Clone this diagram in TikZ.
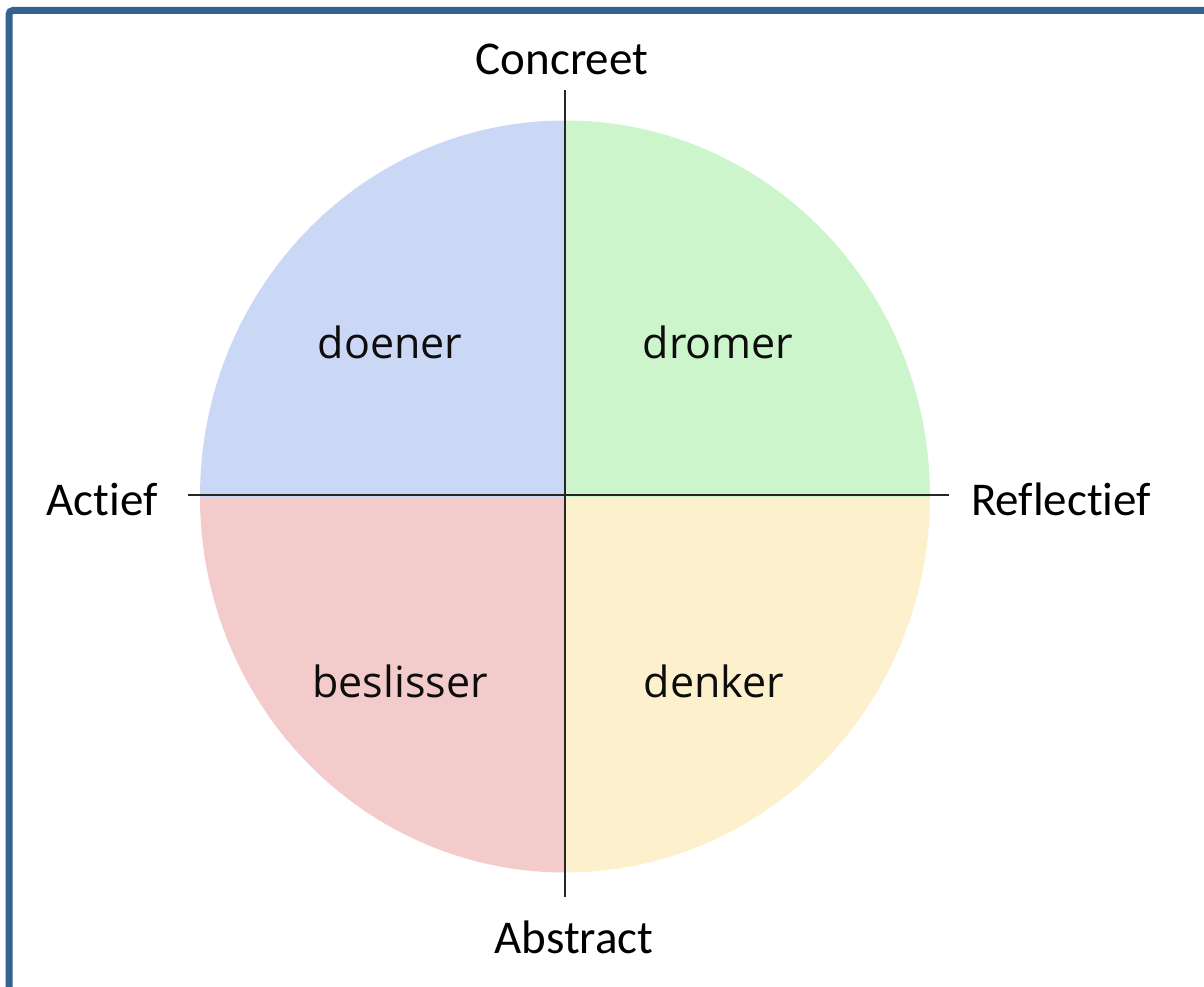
\documentclass[tikz,border=0pt]{standalone}
\usepackage{fontspec}
\setmainfont{Carlito}[Ligatures=NoCommon]
\newfontfamily\quadfont{Open Sans}
\usetikzlibrary{calc}
\definecolor{framecol}{HTML}{35608F}
\definecolor{doenercol}{HTML}{CAD8F5}
\definecolor{dromercol}{HTML}{CCF5CC}
\definecolor{beslissercol}{HTML}{F3CBCB}
\definecolor{denkercol}{HTML}{FCF1CC}

\begin{document}
\begin{tikzpicture}[x=1pt, y=-1pt,
  axislabel/.style={anchor=base, inner sep=0pt, font=\fontsize{47}{50}\selectfont},
  quadlabel/.style={anchor=base, inner sep=0pt, font=\quadfont\fontsize{43}{46}\selectfont, text=black!95}]

  \useasboundingbox (0,0) rectangle (1204,987);

  % frame
  \draw [framecol, line width=7pt, rounded corners=4pt] (9,987) -- (9,10.5) -- (1204,10.5);

  % quadrants
  \coordinate (mid) at (565,496.5);
  \begin{scope}
    \clip (mid) ellipse [x radius=365, y radius=376];
    \fill [doenercol]    (mid) rectangle (150,100);
    \fill [dromercol]    (mid) rectangle (980,100);
    \fill [beslissercol] (mid) rectangle (150,900);
    \fill [denkercol]    (mid) rectangle (980,900);
  \end{scope}

  \node [quadlabel] (doener)    at (390,358) {doener};
  \node [quadlabel] (dromer)    at (718,358) {dromer};
  \node [quadlabel] (beslisser) at (400,697) {beslisser};
  \node [quadlabel] (denker)    at (714,697) {denker};

  % axes
  \node [axislabel] (concreet)   at (562,75)   {Concreet};
  \node [axislabel] (abstract)   at (574,953)  {Abstract};
  \node [axislabel] (actief)     at (102,515)  {Actief};
  \node [axislabel] (reflectief) at (1061,515) {Reflectief};
  \coordinate (top)    at (564.5,90);
  \coordinate (bottom) at (564.5,897);
  \coordinate (left)   at (188,495);
  \coordinate (right)  at (949,495);
  \draw [line width=2pt, black!85] (top) -- (bottom);
  \draw [line width=2pt, black!85] (left) -- (right);
\end{tikzpicture}
\end{document}
